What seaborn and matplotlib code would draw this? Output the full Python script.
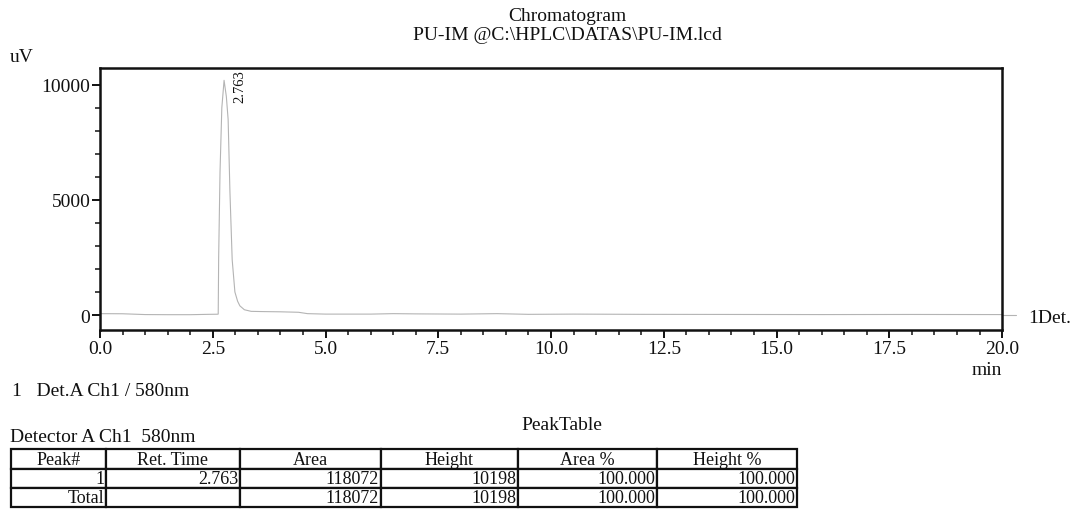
import numpy as np
import pandas as pd
import matplotlib
matplotlib.use("Agg")
import matplotlib.pyplot as plt
from matplotlib.ticker import MultipleLocator, FormatStrFormatter
import seaborn as sns

# ---- data ----
time_min = [0.0, 0.5, 1.0, 1.5, 2.0, 2.4, 2.60, 2.62, 2.63, 2.66, 2.70, 2.75,
            2.80, 2.84, 2.88, 2.93, 2.99, 3.05, 3.10, 3.20, 3.35, 3.6, 4.0,
            4.4, 4.6, 5.0, 6.0, 6.5, 7.0, 8.0, 8.8, 9.5, 10.5, 12.0, 14.0,
            16.0, 18.0, 20.0]
signal_uv = [60, 55, 20, 15, 15, 30, 35, 40, 2500, 6200, 9000, 10198,
             9500, 8500, 5350, 2400, 1000, 600, 400, 230, 160, 150, 140,
             120, 60, 40, 40, 60, 50, 40, 60, 30, 40, 30, 25, 20, 25, 20]
peak_rt = 2.763
peak_label = "2.763"

col_labels = ["Peak#", "Ret. Time", "Area", "Height", "Area %", "Height %"]
row_peak = ["1", "2.763", "118072", "10198", "100.000", "100.000"]
row_total = ["Total", "", "118072", "10198", "100.000", "100.000"]

# ---- style ----
sns.set_style("ticks")
plt.rcParams["font.family"] = ["Liberation Serif", "DejaVu Serif"]
FS = 14
INK = "#111111"

fig = plt.figure(figsize=(10.7, 5.1), dpi=100)
ax = fig.add_axes([0.0935, 0.351, 0.843, 0.514])

df = pd.DataFrame({"t": time_min, "s": signal_uv})
sns.lineplot(data=df, x="t", y="s", ax=ax, color="#b4b4b4", linewidth=0.8)

ax.set_xlim(0, 20)
ax.set_ylim(-650, 10740)
ax.xaxis.set_major_locator(MultipleLocator(2.5))
ax.xaxis.set_minor_locator(MultipleLocator(0.5))
ax.yaxis.set_major_locator(MultipleLocator(5000))
ax.yaxis.set_minor_locator(MultipleLocator(1000))
ax.xaxis.set_major_formatter(FormatStrFormatter("%.1f"))
ax.set_xlabel("")
ax.set_ylabel("")
for sp in ax.spines.values():
    sp.set_linewidth(1.8)
    sp.set_color(INK)
ax.tick_params(which="major", length=6, width=1.4, labelsize=FS, colors=INK, pad=1)
ax.tick_params(which="minor", length=3.5, width=1.1, colors=INK)

# peak label
ax.text(peak_rt + 0.33, 10680, peak_label, rotation=90, ha="center", va="top",
        fontsize=10.5, color=INK)

# 1Det. marker
ax.annotate("1Det.", xy=(20, 20), xycoords="data", xytext=(19, -2),
            textcoords="offset points", ha="left", va="center", fontsize=FS,
            color=INK, annotation_clip=False)
ax.plot([20, 20.3], [20, 20], color="#b4b4b4", linewidth=0.8, clip_on=False)

# titles / labels
fig.text(0.530, 0.967, "Chromatogram", ha="center", va="center", fontsize=FS, color=INK)
fig.text(0.530, 0.931, r"PU-IM @C:\HPLC\DATAS\PU-IM.lcd", ha="center", va="center", fontsize=FS, color=INK)
fig.text(0.009, 0.888, "uV", ha="left", va="center", fontsize=FS, color=INK)
fig.text(0.922, 0.2745, "min", ha="center", va="center", fontsize=FS, color=INK)
fig.text(0.011, 0.233, "1   Det.A Ch1 / 580nm", ha="left", va="center", fontsize=FS, color=INK)
fig.text(0.525, 0.165, "PeakTable", ha="center", va="center", fontsize=FS, color=INK)
fig.text(0.009, 0.142, "Detector A Ch1  580nm", ha="left", va="center", fontsize=FS, color=INK)

# table
tax = fig.add_axes([0.0103, 0.003, 0.7346, 0.114])
tax.axis("off")
col_w = [95, 135, 141, 138, 139, 141]
tot = sum(col_w)
tbl = tax.table(cellText=[row_peak, row_total], colLabels=col_labels,
                colWidths=[w / tot for w in col_w], bbox=[0, 0, 1, 1],
                cellLoc="right", colLoc="center")
tbl.auto_set_font_size(False)
for (r, c), cell in tbl.get_celld().items():
    cell.set_fontsize(13)
    cell.set_linewidth(1.6)
    cell.set_edgecolor(INK)
    cell.PAD = 0.012
    cell.get_text().set_color(INK)
    if r == 0:
        cell.get_text().set_ha("center")

fig.savefig("out.png", dpi=100)
